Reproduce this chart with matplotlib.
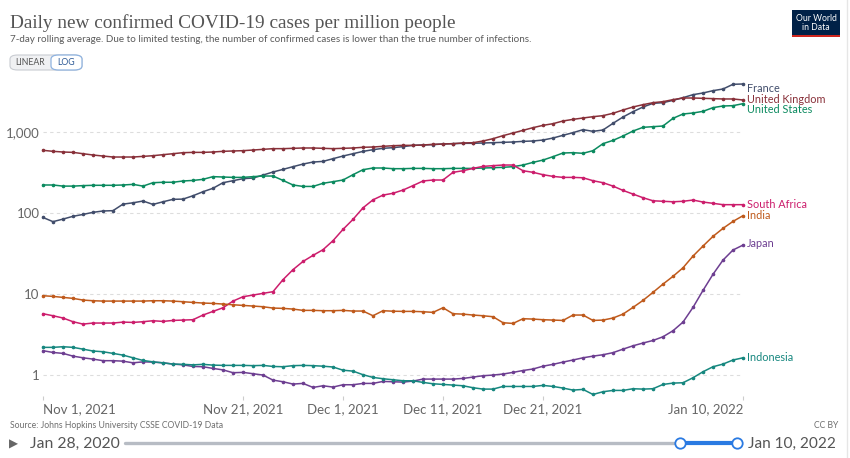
import matplotlib.pyplot as plt
import matplotlib.dates as mdates
import numpy as np
import pandas as pd
from matplotlib.patches import FancyBboxPatch, Rectangle, Circle
from matplotlib.ticker import FixedLocator, FuncFormatter, NullLocator

# daily values, Nov 1 2021 .. Jan 10 2022
dates = pd.date_range("2021-11-01", "2022-01-10", freq="D")

france = [89, 79, 85, 92, 97, 103, 107, 108, 130, 135, 142, 129, 139, 149, 150, 165, 185, 204,
          239, 253, 268, 273, 297, 324, 349, 377, 406, 430, 438, 473, 510, 545, 582, 611, 635, 647,
          666, 691, 698, 705, 718, 725, 732, 732, 739, 745, 753, 760, 774, 782, 804, 851, 919,
          991, 1079, 1029, 1069, 1292, 1546, 1799, 2055, 2280, 2323, 2483, 2679, 2917, 3060, 3268,
          3427, 3917, 3952]
uk = [600, 583, 572, 566, 545, 525, 510, 496, 496, 496, 505, 515, 530, 545, 561, 566, 566, 572,
      583, 589, 594, 605, 617, 629, 629, 635, 641, 641, 635, 629, 635, 641, 654, 659, 672, 684,
      691, 691, 698, 711, 718, 725, 739, 745, 782, 835, 910, 981, 1059, 1142, 1220, 1279, 1381,
      1446, 1503, 1560, 1607, 1718, 1888, 2055, 2197, 2323, 2393, 2531, 2654, 2654, 2630, 2606,
      2582, 2582, 2508]
us = [224, 224, 217, 217, 220, 222, 222, 222, 224, 228, 217, 239, 242, 242, 251, 255, 263, 284,
      281, 278, 278, 284, 289, 289, 255, 224, 215, 215, 235, 246, 258, 300, 346, 363, 363, 356,
      356, 359, 359, 356, 356, 359, 359, 359, 363, 366, 370, 377, 395, 426, 455, 501, 556,
      561, 551, 594, 725, 796, 901, 1038, 1153, 1175, 1197, 1489, 1684, 1733, 1816, 2017, 2115,
      2134, 2259]
south_africa = [5.77, 5.45, 5.11, 4.60, 4.30, 4.43, 4.43, 4.43, 4.55, 4.51, 4.60, 4.73, 4.64, 4.77,
                4.82, 4.87, 5.56, 6.17, 6.84, 8.27, 9.36, 9.81, 10.3, 10.8, 15.2, 20.2, 25.5, 30.3,
                35.6, 46.0, 63.4, 84.3, 117, 147, 168, 177, 194, 220, 251, 258, 258, 321, 336, 359,
                380, 388, 395, 395, 336, 321, 300, 286, 278, 278, 275, 253, 239, 217, 192, 173,
                156, 143, 141, 139, 141, 146, 138, 133, 128, 128, 128]
india = [9.63, 9.45, 9.18, 8.93, 8.51, 8.35, 8.27, 8.27, 8.27, 8.27, 8.27, 8.35, 8.35, 8.27, 8.12,
         7.96, 7.82, 7.74, 7.60, 7.45, 7.31, 7.18, 7.04, 6.78, 6.72, 6.59, 6.35, 6.35, 6.29, 6.29,
         6.35, 6.23, 6.23, 5.45, 6.29, 6.20, 6.17, 6.17, 6.11, 6.00, 6.84, 5.77, 5.71, 5.56, 5.45,
         5.30, 4.47, 4.38, 5.01, 4.96, 4.87, 4.82, 4.77, 5.56, 5.56, 4.77, 4.82, 5.11, 5.71, 6.91,
         8.43, 10.6, 13.4, 16.7, 21.3, 29.7, 39.5, 52.0, 65.3, 79.6, 93.6]
japan = [2.02, 1.92, 1.87, 1.73, 1.65, 1.59, 1.52, 1.52, 1.50, 1.43, 1.47, 1.46, 1.43, 1.38, 1.35,
         1.29, 1.28, 1.22, 1.17, 1.08, 1.09, 1.05, 1.01, 0.875, 0.835, 0.782, 0.797, 0.711, 0.745,
         0.718, 0.767, 0.767, 0.797, 0.797, 0.843, 0.835, 0.827, 0.851, 0.901, 0.901, 0.901, 0.901,
         0.918, 0.954, 0.991, 1.01, 1.04, 1.09, 1.15, 1.20, 1.30, 1.37, 1.46, 1.55, 1.65, 1.73,
         1.80, 1.91, 2.11, 2.32, 2.51, 2.70, 3.00, 3.56, 4.55, 6.91, 11.2, 17.7, 26.5, 35.3, 40.6]
indonesia = [2.22, 2.22, 2.26, 2.22, 2.11, 2.00, 1.96, 1.87, 1.78, 1.65, 1.53, 1.47, 1.43, 1.38,
             1.37, 1.35, 1.37, 1.34, 1.33, 1.33, 1.33, 1.32, 1.33, 1.29, 1.28, 1.32, 1.33, 1.32,
             1.30, 1.27, 1.16, 1.13, 1.02, 0.945, 0.910, 0.884, 0.859, 0.859, 0.820, 0.789, 0.774,
             0.760, 0.745, 0.705, 0.678, 0.678, 0.731, 0.731, 0.731, 0.731, 0.753, 0.731, 0.698,
             0.659, 0.672, 0.582, 0.629, 0.653, 0.653, 0.685, 0.678, 0.685, 0.774, 0.804, 0.812,
             0.936, 1.11, 1.28, 1.38, 1.55, 1.65]

names = ["France", "United Kingdom", "United States", "South Africa", "India", "Japan", "Indonesia"]
series = [france, uk, us, south_africa, india, japan, indonesia]
colors = ["#414d6b", "#883039", "#0b8a5f", "#cc1d6c", "#bf5a1c", "#6d3e91", "#16877f"]
label_dy = [-3, 0.5, -4, 0, 0, 1.5, 0]  # points, to keep end labels apart

tick_dates = ["2021-11-01", "2021-11-21", "2021-12-01", "2021-12-11", "2021-12-21", "2022-01-10"]
tick_labels = ["Nov 1, 2021", "Nov 21, 2021", "Dec 1, 2021", "Dec 11, 2021", "Dec 21, 2021", "Jan 10, 2022"]

plt.rcParams['font.family'] = ['Lato', 'DejaVu Sans']

W, H = 850, 458
fig = plt.figure(figsize=(W / 100, H / 100), dpi=100)

def fx(px):
    return px / W

def fy(py):
    return 1 - py / H

ax = fig.add_axes([fx(43), fy(396), fx(700), (396 - 80) / H])
ax.set_yscale('log')
ax.set_xlim(dates[0], dates[-1])
ax.set_ylim(10 ** -0.254, 10 ** 3.646)

for name, vals, c, dy in zip(names, series, colors, label_dy):
    ax.plot(dates, vals, color=c, lw=1.1, marker='o', ms=1.6, clip_on=False, zorder=3)
    ax.annotate(name, (dates[-1], vals[-1]), xytext=(3, dy), textcoords='offset points',
                color=c, fontsize=7.8, va='center', ha='left', annotation_clip=False)

for s in ax.spines.values():
    s.set_visible(False)

ax.yaxis.set_major_locator(FixedLocator([1, 10, 100, 1000]))
ax.yaxis.set_minor_locator(NullLocator())
ax.yaxis.set_major_formatter(FuncFormatter(lambda v, p: f"{v:,.0f}"))
ax.tick_params(axis='y', length=0, pad=2.5, labelsize=9.5, labelcolor='#666666')
ax.grid(axis='y', color='#dddddd', ls=(0, (3, 3)), lw=0.8)

ax.set_xticks(pd.to_datetime(tick_dates))
ax.set_xticklabels(tick_labels)
ax.xaxis.set_minor_locator(NullLocator())
ax.tick_params(axis='x', length=3, width=0.8, color='#cccccc', pad=2, labelsize=9.5,
               labelcolor='#666666')
xl = ax.get_xticklabels()
xl[0].set_ha('left')
xl[-1].set_ha('right')

# header
fig.text(fx(10), fy(28), "Daily new confirmed COVID-19 cases per million people",
         family=['Liberation Serif', 'DejaVu Serif'], fontsize=13.9, color='#555555', va='baseline')
fig.text(fx(10), fy(42.5), "7-day rolling average. Due to limited testing, the number of confirmed "
         "cases is lower than the true number of infections.", fontsize=7.1, color='#5b5b5b',
         va='baseline')

# LINEAR / LOG toggle
fig.patches.append(FancyBboxPatch((fx(10), fy(70)), fx(72), 15 / H, boxstyle="round,pad=0,rounding_size=0.009",
                                  transform=fig.transFigure, fc='#f0f1f3', ec='#c9ccd2', lw=0.8))
fig.patches.append(FancyBboxPatch((fx(51), fy(70)), fx(31), 15 / H, boxstyle="round,pad=0,rounding_size=0.009",
                                  transform=fig.transFigure, fc='white', ec='#8fb3e0', lw=0.9))
fig.text(fx(30.5), fy(62.5), "LINEAR", fontsize=6.3, color='#555555', ha='center', va='center')
fig.text(fx(66.5), fy(62.5), "LOG", fontsize=6.3, color='#2d5a96', ha='center', va='center')

# logo
fig.patches.append(Rectangle((fx(792), fy(37)), fx(48), 27 / H, transform=fig.transFigure,
                             fc='#002147', ec='none'))
fig.patches.append(Rectangle((fx(792), fy(37)), fx(48), 2.5 / H, transform=fig.transFigure,
                             fc='#ce261e', ec='none'))
fig.text(fx(816), fy(18.5), "Our World", fontsize=6.2, color='white', ha='center', va='center')
fig.text(fx(816), fy(28), "in Data", fontsize=6.2, color='white', ha='center', va='center')

# footer
fig.text(fx(10), fy(425), "Source: Johns Hopkins University CSSE COVID-19 Data", fontsize=6.2,
         color='#6e6e6e', va='center')
fig.text(fx(838), fy(425), "CC BY", fontsize=6.2, color='#6e6e6e', va='center', ha='right')

# timeline
fig.text(fx(9), fy(444), "\u25B6", fontsize=8.5, color='#666666', va='center', family='DejaVu Sans')
fig.text(fx(30), fy(444), "Jan 28, 2020", fontsize=11.3, color='#555555', va='center')
fig.text(fx(748), fy(444), "Jan 10, 2022", fontsize=11.1, color='#555555', va='center')
fig.add_artist(plt.Line2D([fx(125), fx(680)], [fy(443), fy(443)], color='#b7bcc4', lw=2.4,
                          solid_capstyle='round'))
fig.add_artist(plt.Line2D([fx(680), fx(737)], [fy(443), fy(443)], color='#2a7ae2', lw=3))
for cx in (680, 737):
    fig.add_artist(plt.Line2D([fx(cx)], [fy(443)], marker='o', ms=7.5, mfc='white', mec='#2a7ae2',
                              mew=1.3, ls='none'))

# frame border on the right
fig.add_artist(plt.Line2D([fx(847), fx(847)], [0, 1], color='#e6e6e6', lw=1))

fig.savefig("out.png", dpi=100)
